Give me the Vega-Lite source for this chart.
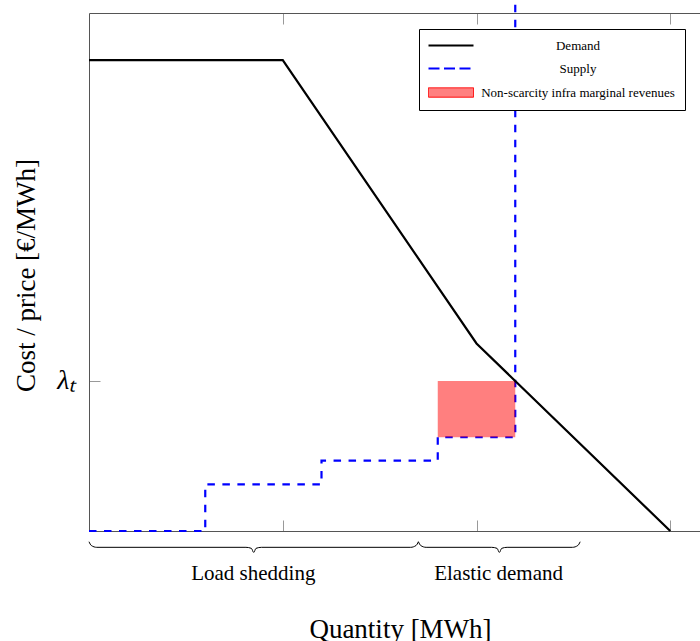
{
  "$schema": "https://vega.github.io/schema/vega-lite/v6.json",
  "autosize": {"type": "none"},
  "width": 611,
  "height": 518,
  "padding": {"left": 89, "right": 0, "top": 13, "bottom": 110},
  "background": "white",
  "config": {"view": {"stroke": null}, "font": "Liberation Serif"},
  "datasets": {
    "demand": [
      {"series": "Demand", "q": 0, "p": 9.09},
      {"series": "Demand", "q": 1, "p": 9.09},
      {"series": "Demand", "q": 2, "p": 3.62},
      {"series": "Demand", "q": 3, "p": 0}
    ],
    "supply": [
      {"series": "Supply", "q": 0, "p": 0},
      {"series": "Supply", "q": 0.6, "p": 0.9},
      {"series": "Supply", "q": 1.2, "p": 1.36},
      {"series": "Supply", "q": 1.8, "p": 1.81},
      {"series": "Supply", "q": 2.2, "p": 10.3}
    ],
    "area": [
      {"series": "Non-scarcity infra marginal revenues", "q": 1.8, "q2": 2.2, "p": 1.81, "p2": 2.896}
    ],
    "braces": [
      {"brace": "Load shedding", "q": 0, "p": -0.207},
      {"brace": "Load shedding", "q": 0.012, "p": -0.28},
      {"brace": "Load shedding", "q": 0.04, "p": -0.315},
      {"brace": "Load shedding", "q": 0.81, "p": -0.315},
      {"brace": "Load shedding", "q": 0.838, "p": -0.335},
      {"brace": "Load shedding", "q": 0.85, "p": -0.413},
      {"brace": "Load shedding", "q": 0.862, "p": -0.335},
      {"brace": "Load shedding", "q": 0.89, "p": -0.315},
      {"brace": "Load shedding", "q": 1.66, "p": -0.315},
      {"brace": "Load shedding", "q": 1.688, "p": -0.28},
      {"brace": "Load shedding", "q": 1.7, "p": -0.207},
      {"brace": "Elastic demand", "q": 1.7, "p": -0.207},
      {"brace": "Elastic demand", "q": 1.712, "p": -0.28},
      {"brace": "Elastic demand", "q": 1.74, "p": -0.315},
      {"brace": "Elastic demand", "q": 2.078, "p": -0.315},
      {"brace": "Elastic demand", "q": 2.106, "p": -0.335},
      {"brace": "Elastic demand", "q": 2.118, "p": -0.413},
      {"brace": "Elastic demand", "q": 2.13, "p": -0.335},
      {"brace": "Elastic demand", "q": 2.158, "p": -0.315},
      {"brace": "Elastic demand", "q": 2.495, "p": -0.315},
      {"brace": "Elastic demand", "q": 2.523, "p": -0.28},
      {"brace": "Elastic demand", "q": 2.535, "p": -0.207}
    ],
    "braceLabels": [
      {"brace": "Load shedding", "q": 0.848, "p": -0.945},
      {"brace": "Elastic demand", "q": 2.114, "p": -0.955}
    ]
  },
  "resolve": {"axis": {"x": "independent", "y": "independent"}},
  "layer": [
    {
      "data": {"name": "supply"},
      "mark": {"type": "line", "interpolate": "step-after", "color": "blue", "strokeWidth": 2.2, "strokeDash": [7.5, 7.5], "clip": false},
      "encoding": {
        "x": {
          "field": "q", "type": "quantitative",
          "scale": {"domain": [0, 3.1535], "nice": false, "zero": false},
          "axis": {
            "orient": "bottom", "values": [1, 2, 3], "labels": false, "grid": false,
            "domain": true, "domainColor": "#555555", "domainWidth": 1,
            "ticks": true, "tickColor": "#999999", "tickSize": -11, "tickWidth": 1,
            "title": "Quantity [MWh]", "titleFont": "Liberation Serif", "titleFontSize": 27, "titleFontWeight": "normal",
            "titleColor": "black", "titleX": 311, "titleY": 106, "titleAlign": "center", "titleBaseline": "alphabetic", "titleAnchor": null
          }
        },
        "y": {
          "field": "p", "type": "quantitative",
          "scale": {"domain": [0, 10], "nice": false, "zero": false},
          "axis": {
            "orient": "left", "values": [2.896], "labelExpr": "'λₜ'", "grid": false,
            "labelFont": "Liberation Serif", "labelFontStyle": "italic", "labelFontSize": 28, "labelColor": "black",
            "labelPadding": 24, "labelBaseline": "middle",
            "domain": true, "domainColor": "#555555", "domainWidth": 1,
            "ticks": true, "tickColor": "#999999", "tickSize": -11, "tickWidth": 1,
            "title": "Cost / price [€/MWh]", "titleFont": "Liberation Serif", "titleFontSize": 27, "titleFontWeight": "normal",
            "titleColor": "black", "titleX": -63, "titleY": 262, "titleAngle": 270, "titleAlign": "center", "titleBaseline": "middle", "titleAnchor": null
          }
        }
      }
    },
    {
      "data": {"name": "area"},
      "mark": {"type": "rect", "color": "red", "opacity": 0.5},
      "encoding": {
        "x": {"field": "q", "type": "quantitative", "axis": null},
        "x2": {"field": "q2"},
        "y": {"field": "p", "type": "quantitative", "axis": null},
        "y2": {"field": "p2"}
      }
    },
    {
      "data": {"name": "demand"},
      "mark": {"type": "line", "strokeWidth": 2.2},
      "encoding": {
        "x": {
          "field": "q", "type": "quantitative",
          "axis": {
            "orient": "top", "values": [1, 2, 3], "labels": false, "grid": false,
            "domain": true, "domainColor": "#555555", "domainWidth": 1,
            "ticks": true, "tickColor": "#999999", "tickSize": -11, "tickWidth": 1, "title": null
          }
        },
        "y": {"field": "p", "type": "quantitative", "axis": null},
        "color": {
          "field": "series", "type": "nominal",
          "scale": {"domain": ["Demand", "Supply", "Non-scarcity infra marginal revenues"], "range": ["black", "blue", "red"]},
          "legend": {
            "orient": "none", "legendX": 330, "legendY": 16, "title": null,
            "strokeColor": "black", "fillColor": "white", "padding": 10, "cornerRadius": 0,
            "symbolSize": 400, "symbolType": "stroke", "symbolStrokeWidth": 2,
            "labelFont": "Liberation Serif", "labelFontSize": 13, "labelColor": "black",
            "labelAlign": "center", "labelOffset": 136, "rowPadding": 9, "labelLimit": 400,
            "encode": {
              "symbols": {
                "update": {
                  "shape": {"signal": "datum.value === 'Non-scarcity infra marginal revenues' ? 'M-0.7,-0.47H3.8V0.47H-0.7Z' : 'M-0.7,0H3.8'"},
                  "fill": {"signal": "datum.value === 'Non-scarcity infra marginal revenues' ? '#ff8080' : 'transparent'"},
                  "stroke": {"signal": "datum.value === 'Demand' ? 'black' : datum.value === 'Supply' ? 'blue' : '#999999'"},
                  "strokeDash": {"signal": "datum.value === 'Supply' ? [11, 4.5] : [1, 0]"},
                  "strokeWidth": {"signal": "datum.value === 'Non-scarcity infra marginal revenues' ? 1 : 2.2"},
                  "opacity": {"value": 1}
                }
              }
            }
          }
        }
      }
    },
    {
      "data": {"name": "braces"},
      "mark": {"type": "line", "interpolate": "monotone", "color": "black", "strokeWidth": 1, "clip": false},
      "encoding": {
        "x": {"field": "q", "type": "quantitative", "axis": null},
        "y": {"field": "p", "type": "quantitative", "axis": null},
        "detail": {"field": "brace", "type": "nominal"}
      }
    },
    {
      "data": {"name": "braceLabels"},
      "mark": {"type": "text", "font": "Liberation Serif", "fontSize": 21, "color": "black", "align": "center", "baseline": "alphabetic", "clip": false},
      "encoding": {
        "x": {"field": "q", "type": "quantitative", "axis": null},
        "y": {"field": "p", "type": "quantitative", "axis": null},
        "text": {"field": "brace", "type": "nominal"}
      }
    }
  ]
}
